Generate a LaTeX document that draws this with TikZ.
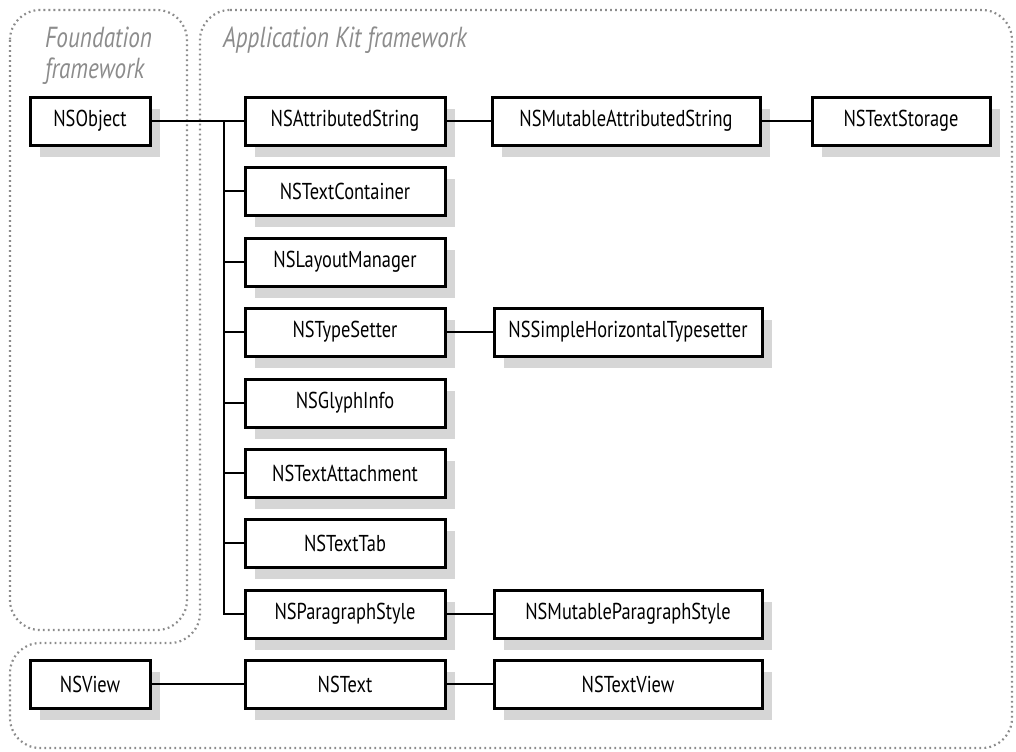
\documentclass[tikz,border=0pt]{standalone}
\usepackage{fontspec}
\setmainfont{PT Sans}[FakeStretch=0.8]
\usetikzlibrary{shadows}

\tikzset{
  cls/.style={draw, line width=1.5pt, fill=white, minimum height=24pt, inner sep=0pt,
    font=\fontsize{11.5}{13}\selectfont,
    drop shadow={shadow xshift=5pt, shadow yshift=-6pt, fill=black, opacity=0.16}},
  wA/.style={cls, minimum width=60pt},
  wB/.style={cls, minimum width=100pt},
  wC/.style={cls, minimum width=134pt},
  wD/.style={cls, minimum width=89pt},
  zone/.style={draw=black!45, line width=1.1pt, dash pattern=on 0.9pt off 1.6pt, rounded corners=15pt},
  zonelabel/.style={text=black!45, font=\fontsize{14.5}{15.5}\selectfont\itshape, align=left, anchor=north west},
  link/.style={line width=0.8pt}
}

\begin{document}
\begin{tikzpicture}[x=0.5pt, y=-0.5pt]
  \useasboundingbox (0,0) rectangle (1016,751);

  % framework outlines
  \draw[zone] (10,10) rectangle (187,630);
  \draw[zone] (200,10) -- (1012,10) -- (1012,748) -- (10,748) -- (10,643) -- (200,643) -- cycle;
  \node[zonelabel] (fndlbl) at (38,20) {Foundation\\framework};
  \node[zonelabel] (appkitlbl) at (216,20) {Application Kit framework};

  % classes
  \node[wA] (obj) at (90,121) {NSObject};
  \node[wB] (attr) at (345,121) {NSAttributedString};
  \node[wC] (mattr) at (626,121) {NSMutableAttributedString};
  \node[wD] (store) at (901,121) {NSTextStorage};
  \node[wB] (cont) at (345,191) {NSTextContainer};
  \node[wB] (layout) at (345,262) {NSLayoutManager};
  \node[wB] (tset) at (345,332) {NSTypeSetter};
  \node[wC] (simple) at (628,332) {NSSimpleHorizontalTypesetter};
  \node[wB] (glyph) at (345,403) {NSGlyphInfo};
  \node[wB] (attach) at (345,473) {NSTextAttachment};
  \node[wB] (tab) at (345,543) {NSTextTab};
  \node[wB] (para) at (345,614) {NSParagraphStyle};
  \node[wC] (mpara) at (628,614) {NSMutableParagraphStyle};
  \node[wA] (view) at (90,684) {NSView};
  \node[wB] (text) at (345,684) {NSText};
  \node[wC] (tview) at (628,684) {NSTextView};

  % inheritance lines
  \coordinate (trunk) at (224,121);
  \draw[link] (obj) -- (attr);
  \foreach \c in {cont,layout,tset,glyph,attach,tab,para}
    \draw[link] (trunk) |- (\c.west);
  \draw[link] (attr) -- (mattr);
  \draw[link] (mattr) -- (store);
  \draw[link] (tset) -- (simple);
  \draw[link] (para) -- (mpara);
  \draw[link] (view) -- (text);
  \draw[link] (text) -- (tview);
\end{tikzpicture}
\end{document}
